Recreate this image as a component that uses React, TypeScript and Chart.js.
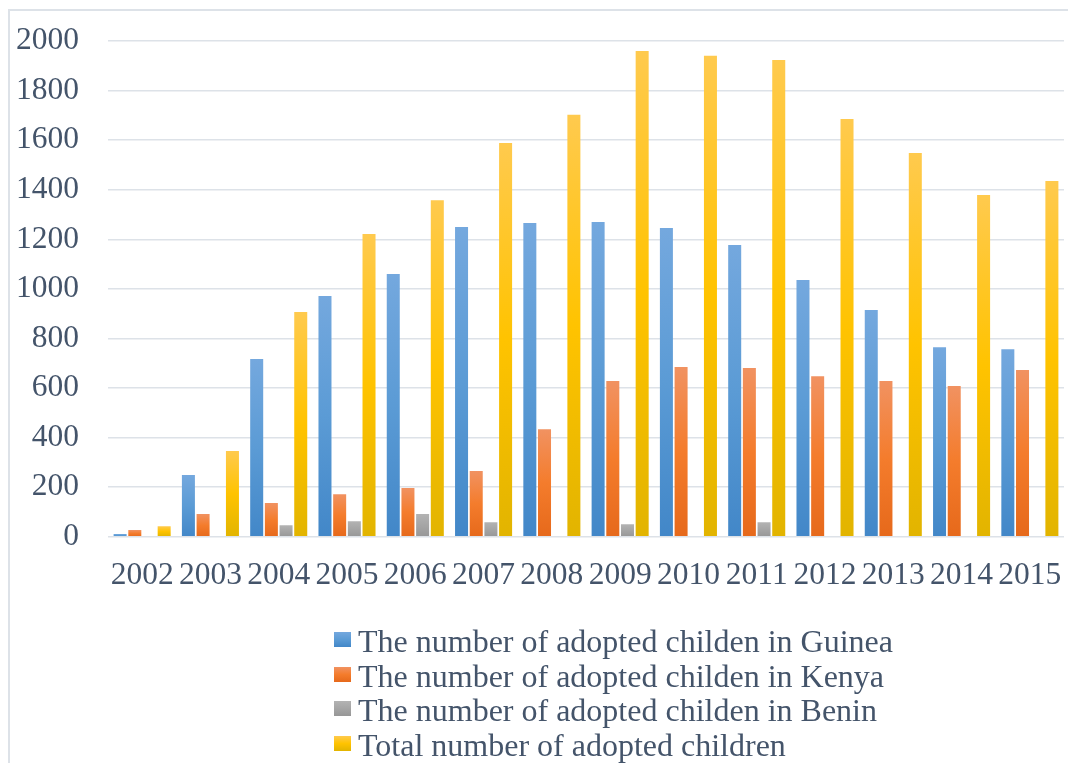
import React, { useEffect, useRef } from "react";
import { Chart, registerables } from "chart.js";

Chart.register(...registerables);

const years = ["2002", "2003", "2004", "2005", "2006", "2007", "2008", "2009", "2010", "2011", "2012", "2013", "2014", "2015"];

const guinea = [11, 249, 717, 971, 1060, 1250, 1266, 1270, 1246, 1177, 1036, 915, 765, 757];
const kenya = [27, 92, 136, 172, 197, 265, 434, 628, 685, 681, 648, 628, 608, 673];
const benin = [null, null, 47, 63, 92, 59, null, 51, null, 59, null, null, null, null];
const total = [43, 346, 907, 1221, 1358, 1589, 1702, 1960, 1940, 1923, 1685, 1548, 1379, 1435];

const seriesLabels = [
  "The number of adopted childen in Guinea",
  "The number of adopted childen in Kenya",
  "The number of adopted childen in Benin",
  "Total number of adopted children",
];

// top / middle / bottom shades of each series fill
const palette: string[][] = [
  ["#74a8de", "#5b9bd5", "#4287c8"],
  ["#f19261", "#f47c2c", "#e6691b"],
  ["#b3b3b3", "#a5a5a5", "#979797"],
  ["#ffca4e", "#ffc300", "#e2b400"],
];

const yTicks = [0, 200, 400, 600, 800, 1000, 1200, 1400, 1600, 1800, 2000];

const TEXT = "#44546a";
const GRID = "#dde2e8";
const SERIF = "'Liberation Serif', 'Times New Roman', serif";

// each bar gets its own vertical gradient, from its top down to the zero line
const barFill = (shades: string[]) => (ctx: any) => {
  const chart = ctx.chart;
  const y = chart.scales && chart.scales.y;
  if (ctx.type !== "data" || !y || !chart.chartArea || !ctx.parsed) return shades[1];
  const v = ctx.parsed.y;
  if (v == null || !isFinite(v)) return shades[1];
  const top = y.getPixelForValue(v);
  const bottom = y.getPixelForValue(0);
  if (!isFinite(top) || !isFinite(bottom) || Math.abs(bottom - top) < 1) return shades[1];
  const g = chart.ctx.createLinearGradient(0, top, 0, bottom);
  g.addColorStop(0, shades[0]);
  g.addColorStop(0.5, shades[1]);
  g.addColorStop(1, shades[2]);
  return g;
};

// keep the axes from reserving extra room around the plot for their edge labels
const noEdgePadding = (s: any) => {
  s.paddingTop = 0;
  s.paddingBottom = 0;
  s.paddingLeft = 0;
  s.paddingRight = 0;
};

export default function App() {
  const canvasRef = useRef<HTMLCanvasElement | null>(null);

  useEffect(() => {
    const canvas = canvasRef.current;
    if (!canvas) return;
    const values = [guinea, kenya, benin, total];
    const chart = new Chart(canvas, {
      type: "bar",
      data: {
        labels: years,
        datasets: values.map((d, i) => ({
          label: seriesLabels[i],
          data: d as any,
          backgroundColor: barFill(palette[i]) as any,
          borderWidth: 0,
          categoryPercentage: 0.86,
          barPercentage: 0.886,
        })),
      },
      options: {
        animation: false,
        responsive: false,
        maintainAspectRatio: false,
        devicePixelRatio: 1,
        layout: { padding: { top: 30, right: 4, bottom: 168, left: 0 } },
        plugins: {
          legend: { display: false },
          tooltip: { enabled: false },
        },
        scales: {
          x: {
            afterFit: (s: any) => {
              noEdgePadding(s);
              s.height = 58.2;
            },
            grid: { display: false, drawTicks: false },
            border: { display: false },
            ticks: {
              color: TEXT,
              font: { family: SERIF, size: 31.5, lineHeight: 1.2 },
              padding: 20.4,
              maxRotation: 0,
              autoSkip: false,
            },
          },
          y: {
            min: 0,
            max: 2000,
            afterFit: (s: any) => {
              noEdgePadding(s);
              s.width = 98;
            },
            afterBuildTicks: (s: any) => {
              s.ticks = yTicks.map((v) => ({ value: v }));
            },
            grid: { color: GRID, lineWidth: 1.6, drawTicks: false },
            border: { display: false },
            ticks: {
              color: TEXT,
              font: { family: SERIF, size: 31.5, lineHeight: 1.2 },
              padding: 29,
              callback: (v: any) => String(v),
            },
          },
        },
      },
    });
    return () => chart.destroy();
  }, []);

  return (
    <div
      style={{
        position: "fixed",
        left: 8,
        top: 9,
        width: 1058,
        height: 752,
        borderTop: `2px solid ${GRID}`,
        borderLeft: `2px solid ${GRID}`,
        background: "#ffffff",
      }}
    >
      <canvas ref={canvasRef} width={1058} height={752} style={{ position: "absolute", left: 0, top: 0 }} />
      <div style={{ position: "absolute", left: 324, top: 613 }}>
        {seriesLabels.map((label, i) => (
          <div key={label} style={{ position: "relative", height: 34.5 }}>
            <span
              style={{
                position: "absolute",
                left: 0,
                top: 8,
                width: 17,
                height: 15,
                background: `linear-gradient(${palette[i][0]}, ${palette[i][1]} 50%, ${palette[i][2]})`,
              }}
            />
            <span
              style={{
                position: "absolute",
                left: 24,
                top: 0,
                whiteSpace: "nowrap",
                fontFamily: SERIF,
                fontSize: 32,
                lineHeight: "34.5px",
                color: TEXT,
              }}
            >
              {label}
            </span>
          </div>
        ))}
      </div>
    </div>
  );
}
